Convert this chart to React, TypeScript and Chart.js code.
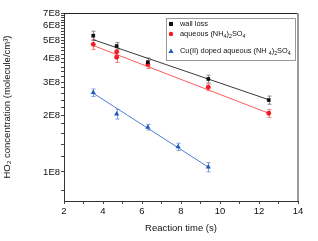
import { useEffect, useRef } from "react";
import { Chart, registerables } from "chart.js";

Chart.register(...registerables);

// Reaction time (s) and HO2 concentration (molecule/cm3)
const wallTime = [3.5, 4.7, 6.3, 9.4, 12.5];
const wallConc = [5.3e8, 4.67e8, 3.83e8, 3.12e8, 2.41e8];
const wallErr = [0.3e8, 0.2e8, 0.2e8, 0.15e8, 0.12e8];

const aqTime = [3.5, 4.7, 4.7, 6.3, 9.4, 12.5];
const aqConc = [4.77e8, 4.35e8, 4.07e8, 3.73e8, 2.82e8, 2.05e8];
const aqErr = [0.3e8, 0.2e8, 0.25e8, 0.18e8, 0.12e8, 0.1e8];

const cuTime = [3.5, 4.7, 6.3, 7.85, 9.4];
const cuConc = [2.64e8, 2.03e8, 1.73e8, 1.36e8, 1.06e8];
const cuErr = [0.12e8, 0.12e8, 0.06e8, 0.06e8, 0.06e8];

// Fitted lines (end points)
const wallFitTime = [3.5, 12.5];
const wallFitConc = [5.05e8, 2.42e8];
const aqFitTime = [3.5, 12.5];
const aqFitConc = [4.7e8, 2.05e8];
const cuFitTime = [3.5, 9.4];
const cuFitConc = [2.62e8, 1.06e8];

const xTickValues = [2, 3, 4, 5, 6, 7, 8, 9, 10, 11, 12, 13, 14];
const yMajorTicks = [1e8, 2e8, 3e8, 4e8, 5e8, 6e8, 7e8];
const yMinorTicks = [
  8e7, 1.2e8, 1.4e8, 1.6e8, 1.8e8, 2.2e8, 2.4e8, 2.6e8, 2.8e8, 3.2e8, 3.4e8, 3.6e8, 3.8e8,
  4.2e8, 4.4e8, 4.6e8, 4.8e8, 5.2e8, 5.4e8, 5.6e8, 5.8e8, 6.2e8, 6.4e8, 6.6e8, 6.8e8,
];

const legendLabels = [
  [{ t: "wall loss" }],
  [{ t: "aqueous (NH" }, { t: "4", sub: true }, { t: ")" }, { t: "2", sub: true }, { t: "SO" }, { t: "4", sub: true }],
  [
    { t: "Cu(II) doped aqueous (NH " },
    { t: "4", sub: true },
    { t: ")" },
    { t: "2", sub: true },
    { t: "SO" },
    { t: "4", sub: true },
  ],
];

const COLORS = {
  wall: "#111111",
  wallLine: "#3a3a3a",
  aq: "#ee1c24",
  aqLine: "#ff5a5a",
  cu: "#1f5bbf",
  cuLine: "#4a7fd6",
};

const FONT = "Liberation Sans, Arial, sans-serif";

const pts = (xs: number[], ys: number[]) => xs.map((x, i) => ({ x, y: ys[i] }));

const errorBarPlugin = {
  id: "errorBars",
  beforeDatasetsDraw(chart: any) {
    const { ctx } = chart;
    const xs = chart.scales.x;
    const ys = chart.scales.y;
    const sets = [
      { t: wallTime, c: wallConc, e: wallErr, col: "#888888" },
      { t: aqTime, c: aqConc, e: aqErr, col: "#f08080" },
      { t: cuTime, c: cuConc, e: cuErr, col: "#7f9fd8" },
    ];
    ctx.save();
    ctx.lineWidth = 1;
    sets.forEach((s) => {
      ctx.strokeStyle = s.col;
      s.t.forEach((t, i) => {
        const px = Math.round(xs.getPixelForValue(t)) + 0.5;
        const top = ys.getPixelForValue(s.c[i] + s.e[i]);
        const bot = ys.getPixelForValue(s.c[i] - s.e[i]);
        ctx.beginPath();
        ctx.moveTo(px, top);
        ctx.lineTo(px, bot);
        ctx.moveTo(px - 2, top);
        ctx.lineTo(px + 2, top);
        ctx.moveTo(px - 2, bot);
        ctx.lineTo(px + 2, bot);
        ctx.stroke();
      });
    });
    ctx.restore();
  },
};

const framePlugin = {
  id: "frame",
  afterDraw(chart: any) {
    const { ctx, chartArea: a } = chart;
    ctx.save();
    ctx.strokeStyle = "#222222";
    ctx.lineWidth = 1;
    ctx.beginPath();
    ctx.moveTo(a.left, a.top + 0.5);
    ctx.lineTo(a.right, a.top + 0.5);
    ctx.stroke();
    ctx.strokeStyle = "#9a9a9a";
    ctx.lineWidth = 2;
    ctx.beginPath();
    ctx.moveTo(a.right, a.top);
    ctx.lineTo(a.right, a.bottom);
    ctx.stroke();
    ctx.restore();
  },
};

const legendPlugin = {
  id: "insideLegend",
  afterDraw(chart: any) {
    const { ctx } = chart;
    const box = { l: 166, t: 18, r: 295, b: 60 };
    const rows = [24, 34, 51];
    ctx.save();
    ctx.fillStyle = "#ffffff";
    ctx.fillRect(box.l, box.t, box.r - box.l, box.b - box.t);
    ctx.strokeStyle = "#9a9a9a";
    ctx.lineWidth = 1;
    ctx.strokeRect(box.l + 0.5, box.t + 0.5, box.r - box.l, box.b - box.t);
    const mx = 171;
    // markers
    ctx.fillStyle = COLORS.wall;
    ctx.fillRect(mx - 2, rows[0] - 2, 4, 4);
    ctx.fillStyle = COLORS.aq;
    ctx.beginPath();
    ctx.arc(mx, rows[1], 2.2, 0, Math.PI * 2);
    ctx.fill();
    ctx.fillStyle = COLORS.cu;
    ctx.beginPath();
    ctx.moveTo(mx, rows[2] - 2.5);
    ctx.lineTo(mx + 2.6, rows[2] + 2);
    ctx.lineTo(mx - 2.6, rows[2] + 2);
    ctx.closePath();
    ctx.fill();
    // text
    ctx.fillStyle = "#111111";
    ctx.textBaseline = "middle";
    ctx.textAlign = "left";
    legendLabels.forEach((segs, i) => {
      let x = 180;
      const y = rows[i];
      segs.forEach((s: any) => {
        if (s.sub) {
          ctx.font = `5.3px ${FONT}`;
          ctx.fillText(s.t, x, y + 2.5);
        } else {
          ctx.font = `7.4px ${FONT}`;
          ctx.fillText(s.t, x, y);
        }
        x += ctx.measureText(s.t).width;
      });
    });
    ctx.restore();
  },
};

export default function App() {
  const ref = useRef<HTMLCanvasElement | null>(null);

  useEffect(() => {
    document.body.style.margin = "0";
    if (!ref.current) return;
    const chart = new Chart(ref.current, {
      type: "scatter",
      data: {
        datasets: [
          {
            label: "wall loss",
            data: pts(wallTime, wallConc),
            backgroundColor: COLORS.wall,
            borderColor: COLORS.wall,
            pointStyle: "rect",
            pointRadius: 2.6,
            borderWidth: 0,
            order: 1,
          },
          {
            label: "aqueous (NH4)2SO4",
            data: pts(aqTime, aqConc),
            backgroundColor: COLORS.aq,
            borderColor: COLORS.aq,
            pointStyle: "circle",
            pointRadius: 2.4,
            borderWidth: 0,
            order: 1,
          },
          {
            label: "Cu(II) doped aqueous (NH4)2SO4",
            data: pts(cuTime, cuConc),
            backgroundColor: COLORS.cu,
            borderColor: COLORS.cu,
            pointStyle: "triangle",
            pointRadius: 3,
            borderWidth: 0,
            order: 1,
          },
          {
            type: "line",
            label: "wall fit",
            data: pts(wallFitTime, wallFitConc),
            borderColor: COLORS.wallLine,
            borderWidth: 1,
            pointRadius: 0,
            showLine: true,
            order: 2,
          },
          {
            type: "line",
            label: "aq fit",
            data: pts(aqFitTime, aqFitConc),
            borderColor: COLORS.aqLine,
            borderWidth: 1,
            pointRadius: 0,
            showLine: true,
            order: 2,
          },
          {
            type: "line",
            label: "cu fit",
            data: pts(cuFitTime, cuFitConc),
            borderColor: COLORS.cuLine,
            borderWidth: 1,
            pointRadius: 0,
            showLine: true,
            order: 2,
          },
        ] as any,
      },
      options: {
        animation: false,
        responsive: false,
        maintainAspectRatio: false,
        layout: { padding: { left: 0, right: 20, top: 13, bottom: 0 } },
        plugins: {
          legend: { display: false },
          tooltip: { enabled: false },
        },
        scales: {
          x: {
            type: "linear",
            min: 2,
            max: 14,
            afterBuildTicks: (scale: any) => {
              scale.ticks = xTickValues.map((v) => ({ value: v }));
            },
            afterFit: (scale: any) => {
              scale.height = 40;
            },
            ticks: {
              autoSkip: false,
              maxRotation: 0,
              padding: 2,
              color: "#111111",
              font: { family: FONT, size: 9.5 },
              callback: (v: any) => (Number(v) % 2 === 0 ? String(v) : ""),
            },
            grid: {
              drawOnChartArea: false,
              drawTicks: true,
              tickLength: 3,
              color: "#444444",
            },
            border: { display: true, color: "#333333", width: 1 },
            title: {
              display: true,
              text: "Reaction time (s)",
              color: "#111111",
              font: { family: FONT, size: 9.5 },
              padding: { top: 0, bottom: 7 },
            },
          },
          y: {
            type: "logarithmic",
            min: 7e7,
            max: 7e8,
            afterBuildTicks: (scale: any) => {
              const vals = [...yMajorTicks, ...yMinorTicks].sort((a, b) => a - b);
              scale.ticks = vals.map((v) => ({ value: v }));
            },
            afterFit: (scale: any) => {
              scale.width = 64;
            },
            ticks: {
              autoSkip: false,
              padding: 1,
              color: "#111111",
              font: { family: FONT, size: 9.5 },
              callback: (v: any) => {
                const n = Number(v);
                return yMajorTicks.includes(n) ? `${Math.round(n / 1e8)}E8` : "";
              },
            },
            grid: {
              drawOnChartArea: false,
              drawTicks: true,
              tickLength: 3,
              color: "#444444",
            },
            border: { display: true, color: "#333333", width: 1 },
            title: {
              display: true,
              text: "HO₂ concentration (molecule/cm³)",
              color: "#111111",
              font: { family: FONT, size: 9.5 },
              padding: { top: 2, bottom: 0 },
            },
          },
        },
      },
      plugins: [errorBarPlugin, framePlugin, legendPlugin],
    });
    return () => chart.destroy();
  }, []);

  return (
    <div style={{ width: 318, height: 241 }}>
      <canvas ref={ref} width={318} height={241} style={{ width: 318, height: 241, display: "block" }} />
    </div>
  );
}
